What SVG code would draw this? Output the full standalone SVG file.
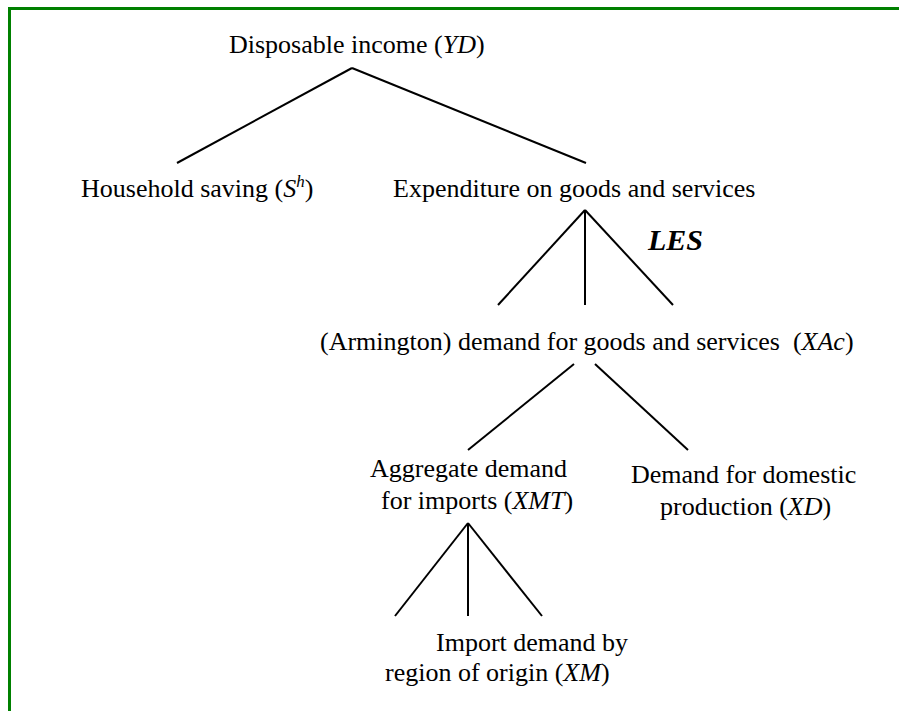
<svg xmlns="http://www.w3.org/2000/svg" width="899" height="711" viewBox="0 0 899 711">
<style>
text{font-family:"Liberation Serif","Times New Roman","DejaVu Serif",serif;font-size:26px;fill:#000}
.i{font-style:italic}
.les{font-weight:bold;font-style:italic;font-size:30px}
.c line{stroke:#000;stroke-width:2;stroke-linecap:butt}
.frame{stroke:#008000;stroke-width:3;fill:none}
</style>
<rect width="899" height="711" fill="#fff"/>
<path class="frame" d="M9.5 711 V8.5 H899"/>
<g class="c" id="connectors">
<line x1="352" y1="68" x2="177" y2="163"/>
<line x1="352" y1="68" x2="586" y2="163"/>
<line x1="585" y1="210" x2="498" y2="305"/>
<line x1="585" y1="210" x2="585" y2="305"/>
<line x1="585" y1="210" x2="673" y2="305"/>
<line x1="574" y1="364" x2="468" y2="450"/>
<line x1="595" y1="364" x2="688" y2="450"/>
<line x1="468" y1="523" x2="395" y2="616"/>
<line x1="468" y1="523" x2="468" y2="616"/>
<line x1="468" y1="523" x2="542" y2="616"/>
</g>
<g id="yd"><text x="229" y="53">Disposable income (<tspan class="i">YD</tspan>)</text></g>
<g id="saving"><text x="81" y="197">Household saving (<tspan class="i">S</tspan><tspan class="i" font-size="17" dy="-10">h</tspan><tspan dy="10">)</tspan></text></g>
<g id="expenditure"><text x="393" y="197">Expenditure on goods and services</text></g>
<g id="les"><text class="les" x="648" y="250">LES</text></g>
<g id="xac"><text x="320" y="350" xml:space="preserve">(Armington) demand for goods and services  (<tspan class="i">XAc</tspan>)</text></g>
<g id="xmt"><text x="370" y="477">Aggregate demand</text><text x="381" y="509">for imports (<tspan class="i">XMT</tspan>)</text></g>
<g id="xd"><text x="631" y="483">Demand for domestic</text><text x="660" y="515">production (<tspan class="i">XD</tspan>)</text></g>
<g id="xm"><text x="436" y="651">Import demand by</text><text x="385" y="681">region of origin (<tspan class="i">XM</tspan>)</text></g>
</svg>
